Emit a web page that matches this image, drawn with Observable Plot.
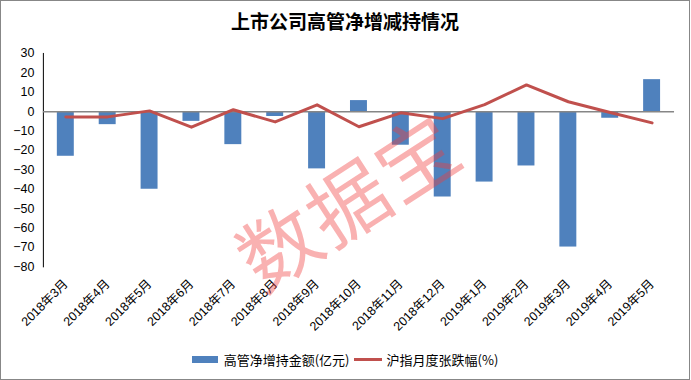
<!DOCTYPE html>
<html>
<head>
<meta charset="utf-8">
<script src="https://cdn.jsdelivr.net/npm/d3@7"></script>
<script src="https://cdn.jsdelivr.net/npm/@observablehq/plot@0.6"></script>
<style>
  html, body { margin: 0; padding: 0; background: #fff; }
  #wrap { position: relative; width: 690px; height: 380px; box-sizing: border-box; border: 1px solid #878787; background: #fff; overflow: hidden; }
  #title { height: 39px; line-height: 40px; text-align: center; font-family: "Noto Sans CJK SC", sans-serif; font-weight: 700; font-size: 19px; color: #000; }
  #legend { position: absolute; left: 0; width: 100%; top: 349px; display: flex; justify-content: center; align-items: center; font-family: "Noto Sans CJK SC", sans-serif; font-size: 13px; color: #000; }
  .sw-bar { width: 26px; height: 7px; background: #4F81BD; margin-right: 6px; }
  .sw-line { width: 28px; height: 3px; background: #C0504D; margin: 0 5px 0 4px; }
  #wm { position: absolute; left: 345px; top: 197px; transform: translate(-50%, -50%) rotate(-33deg); font-family: "Noto Sans CJK SC", sans-serif; font-weight: 400; font-size: 80px; color: rgba(240, 60, 60, 0.4); white-space: nowrap; pointer-events: none; letter-spacing: 2px; }
</style>
</head>
<body>
<div id="wrap">
  <div id="title">上市公司高管净增减持情况</div>
  <div id="chart"></div>
  <div id="legend">
    <div class="sw-bar"></div><span>高管净增持金额(亿元)</span>
    <div class="sw-line"></div><span>沪指月度张跌幅(%)</span>
  </div>
  <div id="wm">数据宝</div>
</div>
<script>
const months = ["2018年3月","2018年4月","2018年5月","2018年6月","2018年7月","2018年8月","2018年9月","2018年10月","2018年11月","2018年12月","2019年1月","2019年2月","2019年3月","2019年4月","2019年5月"];
const netHolding = [-23, -6.7, -40, -5, -17, -2.5, -29.5, 5.7, -17.3, -44, -36.3, -28, -69.8, -3.4, 16.5];
const indexChange = [-2.8, -2.7, 0.4, -8.0, 1.0, -5.3, 3.5, -7.8, -0.6, -3.6, 3.6, 13.8, 5.1, -0.4, -5.8];
const yTicks = [30, 20, 10, 0, -10, -20, -30, -40, -50, -60, -70, -80];

const data = months.map((m, i) => ({month: m, net: netHolding[i], idx: indexChange[i]}));

const chart = Plot.plot({
  width: 690,
  height: 300,
  marginTop: 13,
  marginBottom: 73,
  marginLeft: 42,
  marginRight: 15,
  style: { fontFamily: "'Liberation Sans', Arial, sans-serif", fontSize: "12.5px", color: "#000", background: "transparent" },
  x: {
    domain: months,
    type: "band",
    paddingInner: 0.59,
    paddingOuter: 0.295,
    label: null,
    tickSize: 0,
    tickPadding: 15,
    tickRotate: -45
  },
  y: {
    domain: [-80, 30],
    ticks: yTicks,
    label: null,
    tickSize: 0,
    tickPadding: 9,
    line: true
  },
  marks: [
    Plot.barY(data, {x: "month", y: "net", fill: "#4F81BD"}),
    Plot.ruleY([0], {stroke: "#868686", strokeWidth: 1.5}),
    Plot.line(data, {x: "month", y: "idx", stroke: "#C0504D", strokeWidth: 3})
  ]
});
document.getElementById("chart").appendChild(chart);
const svg = d3.select(chart);
svg.selectAll("[aria-label='x-axis tick label'] text, [aria-label='x-axis'] text").style("font-family", "'Liberation Sans', 'Noto Sans CJK SC', sans-serif").style("font-size", "12.5px");
svg.selectAll("[aria-label='y-axis'] path, [aria-label='y-axis'] line, [aria-label='y-axis tick'] path").attr("stroke", "#868686");
</script>
</body>
</html>
